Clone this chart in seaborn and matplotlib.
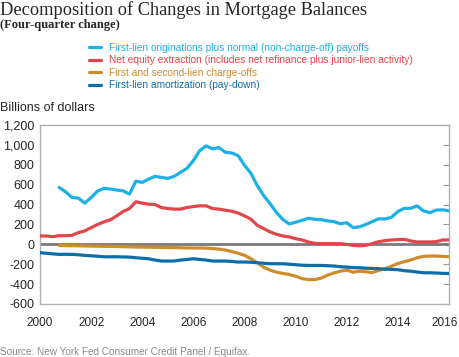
import numpy as np
import pandas as pd
import seaborn as sns
import matplotlib.pyplot as plt
import matplotlib.transforms as mtransforms
from matplotlib.ticker import FuncFormatter, MultipleLocator

# quarterly, 2000Q1 .. 2016Q1
quarters = [2000 + i / 4 for i in range(65)]

originations = [np.nan, np.nan, np.nan,
                572, 528, 471, 465, 414, 470, 535, 563, 556, 546, 538, 505, 635,
                623, 656, 684, 673, 663, 684, 724, 764, 842, 943, 990, 960, 973,
                926, 919, 892, 795, 715, 590, 490, 410, 320, 250, 205, 222, 242,
                262, 252, 248, 236, 228, 207, 217, 168, 176, 200, 229, 257, 255,
                272, 330, 362, 362, 387, 337, 318, 345, 347, 337]

equity_extraction = [84, 84, 77, 87, 87, 90, 118, 135, 168, 199, 226, 246, 286,
                     330, 360, 428, 414, 404, 400, 370, 360, 354, 354, 370, 380,
                     387, 387, 360, 354, 343, 333, 315, 286, 253, 192, 158, 125,
                     101, 84, 74, 57, 44, 24, 10, 7, 7, 7, 7, 0, -10, -15, -10,
                     7, 27, 37, 44, 47, 50, 34, 24, 24, 24, 27, 44, 44]

charge_offs = [np.nan, np.nan, np.nan,
               -12, -13, -14, -15, -16, -18, -19, -20, -21, -22, -24, -25, -27,
               -28, -29, -30, -31, -32, -33, -35, -36, -37, -37, -38, -42, -48,
               -58, -72, -90, -110, -145, -185, -230, -259, -279, -293, -303,
               -320, -345, -354, -354, -340, -310, -288, -270, -260, -280, -270,
               -276, -284, -262, -244, -220, -192, -175, -158, -135, -121, -118,
               -118, -121, -125]

amortization = [-84, -90, -96, -101, -100, -101, -105, -111, -115, -120, -125,
                -125, -125, -127, -128, -135, -140, -145, -158, -168, -168, -168,
                -158, -152, -145, -152, -158, -168, -168, -168, -172, -178, -178,
                -180, -185, -190, -195, -195, -195, -200, -205, -210, -212, -212,
                -212, -215, -218, -225, -229, -234, -236, -240, -242, -245, -250,
                -252, -255, -265, -270, -278, -286, -286, -288, -292, -293]

series_names = [
    "First-lien originations plus normal (non-charge-off) payoffs",
    "Net equity extraction (includes net refinance plus junior-lien activity)",
    "First and second-lien charge-offs",
    "First-lien amortization (pay-down)",
]
colors = ["#1cb1e6", "#e0464a", "#d08c2c", "#0b6ea8"]

df = pd.DataFrame({"quarter": quarters,
                   series_names[0]: originations,
                   series_names[1]: equity_extraction,
                   series_names[2]: charge_offs,
                   series_names[3]: amortization})
long = df.melt(id_vars="quarter", var_name="series", value_name="value").dropna()

sns.set_style("white")
plt.rcParams["font.family"] = ["Liberation Sans", "DejaVu Sans"]

fig = plt.figure(figsize=(4.6, 3.57), dpi=100)
ax = fig.add_axes([40 / 460, 1 - 304 / 357, 409 / 460, 179 / 357])

ax.axhline(0, color="#7a7a7a", lw=2, zorder=1)
sns.lineplot(data=long, x="quarter", y="value", hue="series",
             hue_order=series_names, palette=colors, lw=2.3, ax=ax, zorder=3)

ax.set_xlim(2000, 2016)
ax.set_ylim(-600, 1200)
ax.set_xticks(range(2000, 2017, 2))
ax.xaxis.set_minor_locator(MultipleLocator(0.25))
ax.yaxis.set_major_locator(MultipleLocator(200))
ax.yaxis.set_major_formatter(FuncFormatter(lambda v, p: f"{v:,.0f}"))
ax.set_xlabel("")
ax.set_ylabel("")

for s in ax.spines.values():
    s.set_color("#b0b0b0")
    s.set_linewidth(1)
ax.tick_params(axis="x", which="major", direction="in", length=5, color="#999999",
               labelsize=8.5, pad=9, top=False)
ax.tick_params(axis="x", which="minor", direction="in", length=2.5, color="#999999",
               top=False)
ax.tick_params(axis="y", direction="in", length=4, color="#999999", labelsize=9,
               right=True, pad=4)

# nudge the last year label left so it stays on the canvas
last = ax.xaxis.get_major_ticks()[-1].label1
last.set_transform(last.get_transform() +
                   mtransforms.ScaledTranslation(-4 / 100, 0, fig.dpi_scale_trans))

handles, labels = ax.get_legend_handles_labels()
ax.get_legend().remove()
leg = fig.legend(handles, labels, loc="upper left",
                 bbox_to_anchor=(89 / 460, 1 - 43 / 357), frameon=False,
                 fontsize=7.3, handlelength=1.2, handletextpad=0.8,
                 labelspacing=0.24, borderaxespad=0, borderpad=0)
for txt, c in zip(leg.get_texts(), colors):
    txt.set_color(c)

fig.text(0.0, 1 - 1 / 357, "Decomposition of Changes in Mortgage Balances",
         family="Liberation Serif", fontsize=13.2, va="top", ha="left")
fig.text(0.0, 1 - 19 / 357, "(Four-quarter change)", family="Liberation Serif",
         fontsize=9, fontweight="bold", va="top", ha="left")
fig.text(0.0, 1 - 102 / 357, "Billions of dollars", fontsize=9, va="top", ha="left")
fig.text(0.0, 1 - 352 / 357, "Source: New York Fed Consumer Credit Panel / Equifax.",
         fontsize=7.2, color="#8a8a8a", va="center", ha="left")

fig.savefig("out.png", dpi=100)
